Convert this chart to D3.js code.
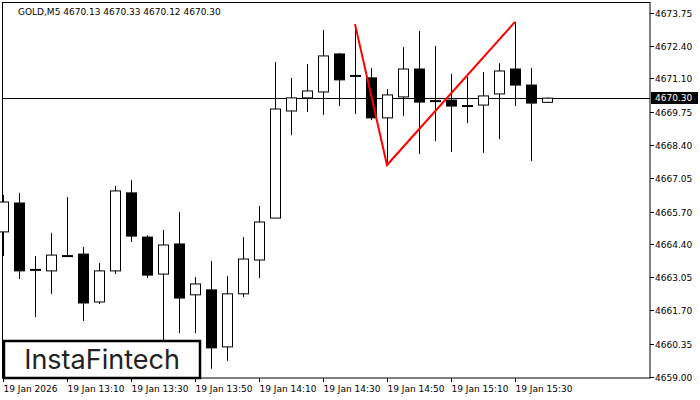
<!DOCTYPE html>
<html><head><meta charset="utf-8">
<script src="https://cdn.jsdelivr.net/npm/d3@7"></script>
<style>body{margin:0;background:#fff}svg{display:block}</style>
</head><body>
<svg id="c" width="700" height="400"></svg>
<script>
// GOLD M5, 19 Jan 2026, 12:50 .. 15:40
var opens  = [4664.88,4666.05,4663.34,4663.30,4663.90,4663.98,4662.04,4663.30,4666.46,4664.67,4663.17,4664.39,4662.33,4662.53,4660.22,4662.37,4663.74,4665.44,4669.78,4670.31,4670.55,4672.09,4671.20,4671.12,4669.50,4670.35,4671.48,4670.22,4670.22,4670.02,4670.02,4670.47,4671.48,4670.83,4670.13];
var highs  = [4666.38,4666.46,4663.90,4664.84,4666.29,4664.27,4663.62,4666.74,4666.98,4664.75,4664.96,4665.69,4663.05,4663.70,4663.09,4664.67,4665.93,4671.76,4671.12,4671.68,4673.06,4672.13,4673.30,4671.52,4670.67,4672.37,4673.02,4672.41,4671.28,4671.16,4671.36,4671.72,4673.39,4671.52,4670.33];
var lows   = [4663.90,4662.97,4661.43,4662.37,4663.88,4661.27,4661.96,4663.17,4664.47,4663.01,4660.50,4660.78,4660.78,4659.33,4659.65,4662.24,4663.01,4665.44,4668.80,4669.74,4669.62,4669.98,4669.66,4669.41,4667.59,4669.58,4668.04,4668.56,4668.12,4669.29,4668.08,4668.64,4669.98,4667.75,4670.12];
var closes = [4666.09,4663.30,4663.34,4663.94,4663.90,4662.00,4663.30,4666.54,4664.71,4663.13,4664.35,4662.20,4662.77,4660.18,4662.37,4663.78,4665.28,4669.86,4670.31,4670.59,4672.01,4671.04,4671.20,4669.50,4670.43,4671.48,4670.14,4670.14,4669.98,4669.94,4670.39,4671.40,4670.83,4670.10,4670.30];
var yTicks = [4673.75,4672.40,4671.10,4669.75,4668.40,4667.05,4665.70,4664.40,4663.05,4661.70,4660.35,4659.00];
var timeIdx = [0,4,8,12,16,20,24,28,32];
var timeLabels = ["19 Jan 2026","19 Jan 13:10","19 Jan 13:30","19 Jan 13:50","19 Jan 14:10","19 Jan 14:30","19 Jan 14:50","19 Jan 15:10","19 Jan 15:30"];
var patternIdx = [22,24,32];
var patternPrice = [4673.30,4667.59,4673.39];
var lastPrice = 4670.30;

var svg = d3.select("#c");
var x = d3.scaleLinear().domain([0,34]).range([3,547]);
var y = d3.scaleLinear().domain([4659.00,4673.75]).range([377,13]);
var R = 650, B = 378, bw = 10;

svg.append("rect").attr("x",2.5).attr("y",2.5).attr("width",R-2.5).attr("height",B-2.5)
  .attr("fill","#fff").attr("stroke","#000");

// price line
svg.append("line").attr("x1",3).attr("x2",R).attr("y1",Math.round(y(lastPrice))+0.5).attr("y2",Math.round(y(lastPrice))+0.5)
  .attr("stroke","#000");

var g = svg.append("g");
d3.range(opens.length).forEach(function(i){
  var cx = Math.round(x(i))+0.5, up = closes[i] >= opens[i];
  g.append("line").attr("x1",cx).attr("x2",cx).attr("y1",y(highs[i])).attr("y2",y(lows[i])).attr("stroke","#000");
  var t = y(Math.max(opens[i],closes[i])), b = y(Math.min(opens[i],closes[i]));
  if (b - t < 2) {
    g.append("line").attr("x1",cx-bw/2-0.5).attr("x2",cx+bw/2+0.5).attr("y1",(t+b)/2).attr("y2",(t+b)/2)
      .attr("stroke","#000").attr("stroke-width",2);
  } else {
    g.append("rect").attr("x",cx-bw/2).attr("y",t).attr("width",bw).attr("height",b-t)
      .attr("fill",up?"#fff":"#000").attr("stroke","#000");
  }
});

svg.append("path").attr("d",d3.line().x(function(d){return x(d);}).y(function(d,i){return y(patternPrice[i]);})(patternIdx))
  .attr("fill","none").attr("stroke","#f00").attr("stroke-width",2);

// right axis
var ax = svg.append("g").attr("font-family","DejaVu Sans, sans-serif").attr("font-size",9);
yTicks.forEach(function(v){
  var yy = Math.round(y(v))+0.5;
  ax.append("line").attr("x1",R).attr("x2",R+4).attr("y1",yy).attr("y2",yy).attr("stroke","#000");
  ax.append("text").attr("x",655).attr("y",yy+3).text(v.toFixed(2));
});
var ly = Math.round(y(lastPrice));
ax.append("rect").attr("x",R+1).attr("y",ly-6).attr("width",47).attr("height",12).attr("fill","#000");
ax.append("text").attr("x",655).attr("y",ly+3).attr("fill","#fff").text(lastPrice.toFixed(2));

// time axis
timeIdx.forEach(function(idx,k){
  var xx = Math.round(x(idx))+0.5;
  ax.append("line").attr("x1",xx).attr("x2",xx).attr("y1",B).attr("y2",B+4).attr("stroke","#000");
  ax.append("text").attr("x",xx).attr("y",392).text(timeLabels[k]);
});

svg.append("text").attr("x",18).attr("y",15).attr("font-family","DejaVu Sans, sans-serif").attr("font-size",9)
  .text("GOLD,M5  4670.13 4670.33 4670.12 4670.30");

// logo
svg.append("rect").attr("x",4).attr("y",341).attr("width",196).attr("height",37).attr("fill","#fff").attr("stroke","#000").attr("stroke-width",2.5);
svg.append("text").attr("x",102).attr("y",369).attr("text-anchor","middle").attr("font-family","Inter, Roboto, sans-serif")
  .attr("font-size",27).attr("fill","#222").text("InstaFintech");
</script>
</body></html>
